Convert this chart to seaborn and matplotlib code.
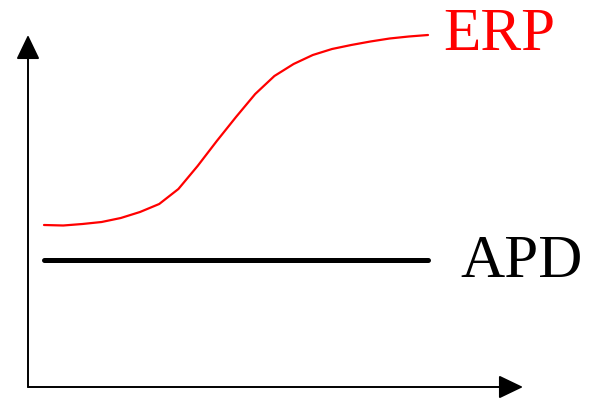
import seaborn as sns
from matplotlib import pyplot as plt
import numpy as np

# schematic: ERP rises sigmoidally over time, APD stays flat (arbitrary units)
time = [0, 5, 10, 15, 20, 25, 30, 35, 40, 45, 50, 55, 60, 65, 70, 75, 80, 85, 90, 95, 100]
erp = [162, 161.5, 163, 165, 169, 175, 183, 198, 221, 246, 270, 293, 311, 323, 332,
       338, 342, 345.5, 348.5, 350.5, 352]
apd_time = [0, 100]
apd = [127, 127]

sns.set_style("white")
plt.rcParams['font.family'] = ['Liberation Serif', 'DejaVu Serif']

fig = plt.figure(figsize=(5.89, 4.0), dpi=100)
ax = fig.add_axes([0, 0, 1, 1])

sns.lineplot(x=time, y=erp, color='#ff0000', lw=1.6, ax=ax)
sns.lineplot(x=apd_time, y=apd, color='black', lw=3.6, ax=ax)
for l in ax.lines:
    l.set_solid_joinstyle('round')

# pixel-like framing
ax.set_xlim(-44 / 3.84, 545 / 3.84)
ax.set_ylim(-13, 387)
ax.axis('off')

arrow = dict(arrowstyle='-|>,head_length=1.5,head_width=0.72', mutation_scale=10,
             color='black', lw=1.4, shrinkA=0, shrinkB=0)
ax.annotate('', xy=(479 / 3.84, 0), xytext=(-16 / 3.84, 0), arrowprops=arrow)
ax.annotate('', xy=(-16 / 3.84, 352), xytext=(-16 / 3.84, 0), arrowprops=arrow)

ax.text(399 / 3.84, 337, 'ERP', color='#ff0000', fontsize=44, va='baseline', ha='left')
ax.text(416 / 3.84, 110, 'APD', color='black', fontsize=44, va='baseline', ha='left')

fig.savefig('out.png', dpi=100)
